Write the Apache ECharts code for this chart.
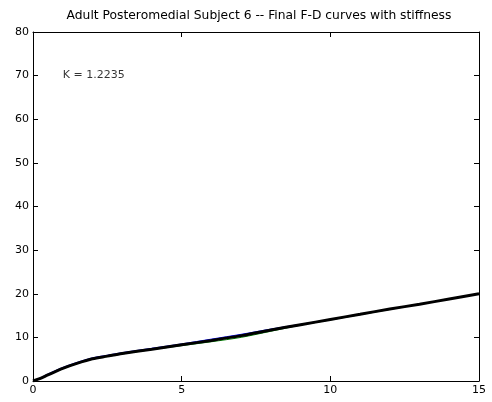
<!DOCTYPE html>
<html><head><meta charset="utf-8">
<script src="https://cdn.jsdelivr.net/npm/echarts@6/dist/echarts.min.js"></script>
<style>html,body{margin:0;padding:0;background:#fff}#c{width:492px;height:402px}</style>
</head><body><div id="c"></div>
<script>
const titleText = 'Adult Posteromedial Subject 6 -- Final F-D curves with stiffness';
const annotation = 'K = 1.2235';
const annotationPos = [1, 70];
const xs = [0, 0.25, 0.5, 1, 1.5, 2, 2.5, 3, 4, 5, 6, 7, 8, 9, 10, 11, 12, 13, 14, 15];
const blackY = [0, 0.6, 1.4, 2.9, 4.1, 5.1, 5.7, 6.3, 7.3, 8.3, 9.3, 10.4, 11.7, 12.9, 14.1, 15.3, 16.5, 17.6, 18.8, 20.0];
const blueY  = [0, 0.7, 1.6, 3.1, 4.3, 5.3, 5.9, 6.5, 7.5, 8.5, 9.6, 10.7, 11.9, 13.0, 14.1, 15.3, 16.5, 17.6, 18.8, 20.0];
const greenY = [0, 0.5, 1.3, 2.8, 4.0, 5.0, 5.6, 6.2, 7.2, 8.1, 9.0, 10.0, 11.4, 12.8, 14.0, 15.2, 16.4, 17.6, 18.8, 20.0];
const xTicks = [0, 5, 10, 15];
const yTicks = [0, 10, 20, 30, 40, 50, 60, 70, 80];

const pair = ys => xs.map((x, i) => [x, ys[i]]);
const font = 'DejaVu Sans, Liberation Sans, Arial, sans-serif';
const chart = echarts.init(document.getElementById('c'));
const axisCommon = {
  axisLine: {show: true, onZero: false, lineStyle: {color: '#000', width: 1}},
  axisTick: {show: true, inside: true, length: 5, lineStyle: {color: '#000'}},
  splitLine: {show: false},
};
chart.setOption({
  animation: false,
  backgroundColor: '#fff',
  title: {text: titleText, left: 254, textAlign: 'center', top: 5, textStyle: {fontFamily: font, fontSize: 12.3, fontWeight: 'normal', color: '#000'}},
  grid: {left: 33, right: 13, top: 32, bottom: 21},
  xAxis: [
    Object.assign({type: 'value', min: 0, max: 15, interval: 5, position: 'bottom',
      axisLabel: {color: '#000', fontFamily: font, fontSize: 11, margin: 4}}, axisCommon),
    Object.assign({type: 'value', min: 0, max: 15, interval: 5, position: 'top',
      axisLabel: {show: false}}, axisCommon),
  ],
  yAxis: [
    Object.assign({type: 'value', min: 0, max: 80, interval: 10, position: 'left',
      axisLabel: {color: '#000', fontFamily: font, fontSize: 11, margin: 4}}, axisCommon),
    Object.assign({type: 'value', min: 0, max: 80, interval: 10, position: 'right',
      axisLabel: {show: false}}, axisCommon),
  ],
  series: [
    {type: 'line', data: pair(blueY), showSymbol: false, lineStyle: {color: '#0000ff', width: 1}, smooth: 0.3},
    {type: 'line', data: pair(greenY), showSymbol: false, lineStyle: {color: '#008000', width: 1}, smooth: 0.3},
    {type: 'line', data: pair(blackY), showSymbol: false, lineStyle: {color: '#000', width: 3}, smooth: 0.3},
    {type: 'scatter', data: [annotationPos], symbolSize: 0, silent: true,
      label: {show: true, position: 'right', distance: 0, formatter: annotation, color: '#000', fontFamily: font, fontSize: 11}},
  ],
});
</script></body></html>
